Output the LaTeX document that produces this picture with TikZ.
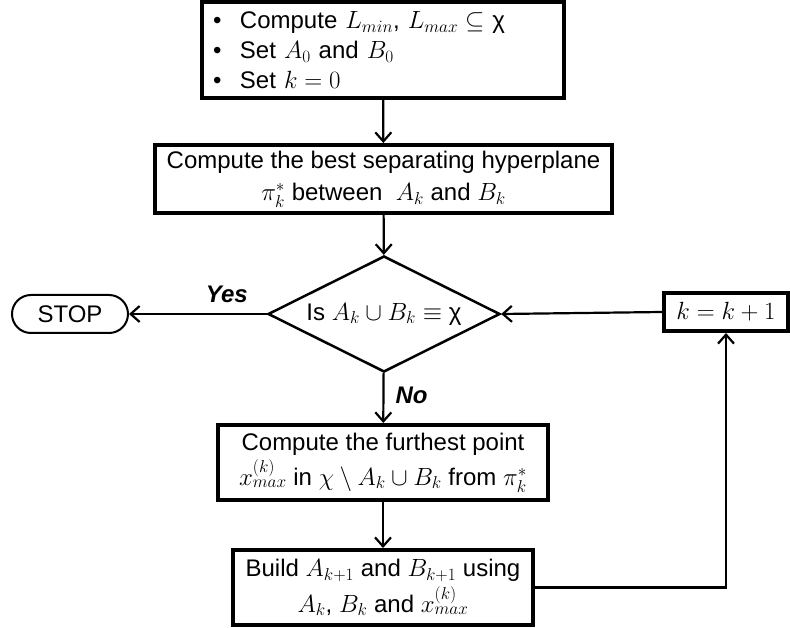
\documentclass[tikz,border=0pt]{standalone}
\usepackage{amsmath,amssymb}
\usepackage{fontspec}
\setmainfont{Liberation Sans}
\usetikzlibrary{shapes.geometric,arrows.meta}

\tikzset{
	block/.style={draw,line width=4pt,align=center,inner sep=0pt},
	flow/.style={line width=2.2pt,-{Straight Barb[length=9pt,width=16pt,line width=2.2pt]}},
	answer/.style={inner sep=0pt,font=\fontsize{24}{30}\selectfont\bfseries\itshape}
}

\begin{document}
\begin{tikzpicture}[x=1pt,y=-1pt,font=\fontsize{24}{30}\selectfont]
	\useasboundingbox (0,0) rectangle (790,628);

	%boxes
	\node[block,minimum width=362,minimum height=96,text width=340,align=left] (init) at (383,50)
		{\makebox[27pt][l]{•}Compute $L_{min}$, $L_{max} \subseteq$ χ\\
		 \makebox[27pt][l]{•}Set $A_0$ and $B_0$\\
		 \makebox[27pt][l]{•}Set $k=0$};
	\node[block,minimum width=457,minimum height=68] (sep) at (383.5,179)
		{Compute the best separating hyperplane\\[2pt] $\pi_k^*$ between\ \ $A_k$ and $B_k$};
	\node[draw,diamond,line width=2.5pt,inner sep=0pt,aspect=2,minimum width=232,minimum height=116] (test) at (384,314)
		{Is $A_k \cup B_k \equiv$ χ};
	\node[draw,line width=2pt,rounded corners=19pt,minimum width=116,minimum height=38,inner sep=0pt] (stop) at (70,314) {STOP};
	\node[block,minimum width=124,minimum height=38] (inc) at (726,312) {$k=k+1$};
	\node[block,minimum width=330,minimum height=75] (far) at (383,462.5)
		{Compute the furthest point\\[3pt] $x_{max}^{(k)}$ in $\chi \setminus A_k \cup B_k$ from $\pi_k^*$};
	\node[block,minimum width=300,minimum height=75] (build) at (383,587.5)
		{Build $A_{k+1}$ and $B_{k+1}$ using\\[4pt] $A_k$, $B_k$ and $x_{max}^{(k)}$};

	%connectors
	\draw[flow] (init) -- (sep);
	\draw[flow] (sep) -- (test);
	\draw[flow] (test) -- (stop) node[answer,pos=0.29,above=10pt] (yes) {Yes};
	\draw[flow] (test) -- (far) node[answer,pos=0.44,right=11pt] (no) {No};
	\draw[flow] (far) -- (build);
	\draw[flow] (build.east) -| (inc.south);
	\draw[flow] (inc.west) -- (test.east);
\end{tikzpicture}
\end{document}
